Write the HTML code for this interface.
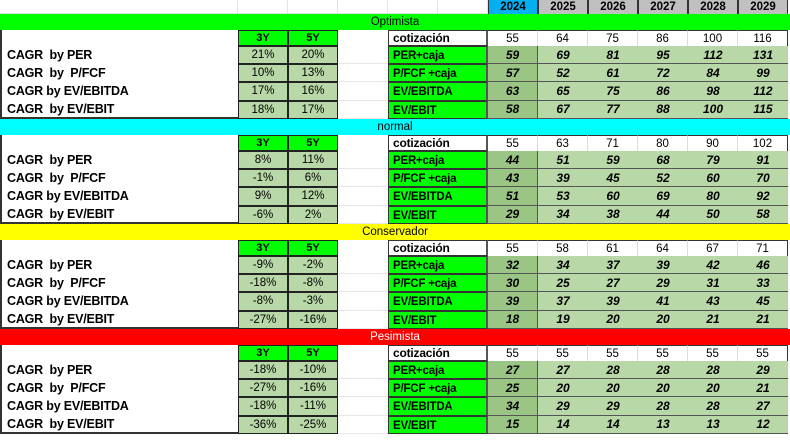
<!DOCTYPE html>
<html><head><meta charset="utf-8">
<style>
body{margin:0;width:790px;height:440px;overflow:hidden;background:#fff;font-family:"Liberation Sans",Arial,sans-serif;position:relative}
.c{position:absolute;box-sizing:border-box;display:flex;align-items:center;justify-content:center;font-size:11.5px;color:#000;white-space:pre}
</style></head><body>
<div id="root"></div>
<script>
const years=["2024","2025","2026","2027","2028","2029"];
const scenarios=["Optimista","normal","Conservador","Pesimista"];
const bannerColors=["#00ff00","#00ffff","#ffff00","#ff0000"];
const bannerText=["#000","#000","#000","#fff"];
const cagrLabels=["CAGR  by PER","CAGR  by  P/FCF","CAGR by EV/EBITDA","CAGR  by EV/EBIT"];
const metricLabels=["PER+caja","P/FCF +caja","EV/EBITDA","EV/EBIT"];
const cagr3=[["21%","10%","17%","18%"],["8%","-1%","9%","-6%"],["-9%","-18%","-8%","-27%"],["-18%","-27%","-18%","-36%"]];
const cagr5=[["20%","13%","16%","17%"],["11%","6%","12%","2%"],["-2%","-8%","-3%","-16%"],["-10%","-16%","-11%","-25%"]];
const cotizacion=[[55,64,75,86,100,116],[55,63,71,80,90,102],[55,58,61,64,67,71],[55,55,55,55,55,55]];
const values=[
 [[59,69,81,95,112,131],[57,52,61,72,84,99],[63,65,75,86,98,112],[58,67,77,88,100,115]],
 [[44,51,59,68,79,91],[43,39,45,52,60,70],[51,53,60,69,80,92],[29,34,38,44,50,58]],
 [[32,34,37,39,42,46],[30,25,27,29,31,33],[39,37,39,41,43,45],[18,19,20,20,21,21]],
 [[27,27,28,28,28,29],[25,20,20,20,20,21],[34,29,29,28,28,27],[15,14,14,13,13,12]]
];
const root=document.getElementById('root');
function cell(x,y,w,h,txt,style,name){
 const d=document.createElement('div');d.className='c';
 d.style.left=x+'px';d.style.top=y+'px';d.style.width=w+'px';d.style.height=h+'px';
 if(style)d.style.cssText+=style;
 d.textContent=txt;
 
 
 root.appendChild(d);return d;
}
const gridCols=[0,238,288,338,388,438,488,538,588,638,688,738,788];
for(let i=0;i<gridCols.length-1;i++){
 cell(gridCols[i],0,gridCols[i+1]-gridCols[i],14,"","border-right:1px solid #e2e2e2;border-bottom:1px solid #e2e2e2","grid-cell");
}
years.forEach((y,i)=>{
 cell(488+i*50,0,50,15,y,"background:"+(i==0?"#00b0f0":"#c0c0c0")+";font-weight:bold;border:1px solid #333;border-top:none;font-size:11.5px","year-header-"+y);
});
const secTop=[14,119,224,329];
scenarios.forEach((s,si)=>{
 const t=secTop[si];
 cell(0,t,790,16,s,"background:"+bannerColors[si]+";color:"+bannerText[si]+";font-size:11.5px","banner-"+s.toLowerCase());
 const ht=t+16;
 cell(0,ht,238,16,"","border-left:2px solid #333","label-blank");
 cell(238,ht,50,16,"3Y","background:#00ff00;font-weight:bold;border:1.5px solid #222;font-size:11px","header-3y");
 cell(288,ht,50,16,"5Y","background:#00ff00;font-weight:bold;border:1.5px solid #222;font-size:11px","header-5y");
 cell(388,ht,100,16,"cotización","justify-content:flex-start;padding-left:4px;font-weight:bold;font-size:12px;letter-spacing:-0.2px;border:1.5px solid #333;border-right:2px solid #555","cotizacion-label");
 cotizacion[si].forEach((v,i)=>{
  cell(488+i*50,ht,50,16,String(v),"background:#fff;border-right:1px solid #ddd;border-top:1px solid #333;"+(i==5?"border-right:1.5px solid #333;":""),"cotizacion-"+years[i]);
 });
 for(let r=0;r<4;r++){
  const y=ht+16+r*18.2, h=18.2;
  cell(0,y,238,h,cagrLabels[r],"justify-content:flex-start;padding-left:5px;font-weight:bold;font-size:12.5px;letter-spacing:-0.2px;border-left:2px solid #333;"+(r==3?"border-bottom:2px solid #333;":""),"cagr-label");
  cell(238,y,50,h,cagr3[si][r],"background:#b9d8a8;border:1.5px solid #222","cagr-3y");
  cell(288,y,50,h,cagr5[si][r],"background:#b9d8a8;border:1.5px solid #222","cagr-5y");
  cell(338,y,50,h,"","border-bottom:1px solid #e8e8e8","blank");
  cell(388,y,100,h,metricLabels[r],"justify-content:flex-start;padding-left:4px;padding-top:2px;background:#00ff00;font-weight:bold;font-size:11.5px;letter-spacing:-0.2px;border:1.5px solid #333;border-right:2px solid #555","metric-label");
  values[si][r].forEach((v,i)=>{
   cell(488+i*50,y,50,h,String(v),"background:"+(i==0?"#9bc584":"#b9d8a8")+";font-weight:bold;font-style:italic;font-size:12px;border-bottom:1.5px solid #555;"+(i==0?"border-right:1.5px solid #555;":""),"value-"+years[i]);
  });
 }
});
</script>
</body></html>
